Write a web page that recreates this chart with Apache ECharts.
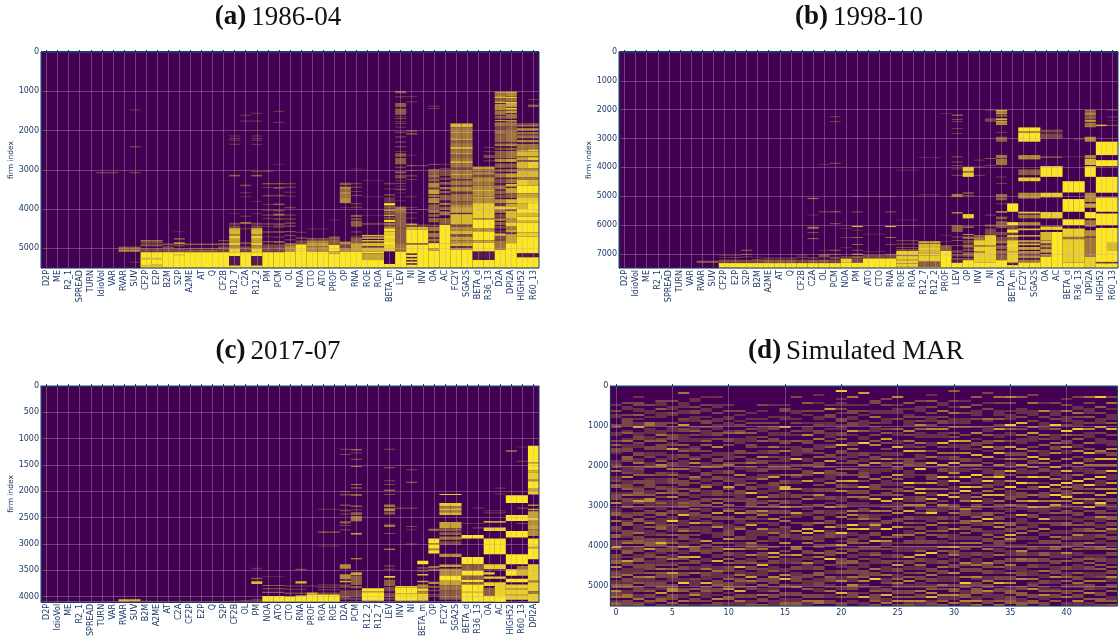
<!DOCTYPE html>
<html><head><meta charset="utf-8">
<style>html,body{margin:0;padding:0;background:#fff}#c{width:1119px;height:639px}</style>
<script src="https://cdn.jsdelivr.net/npm/echarts@6/dist/echarts.min.js"></script>
</head><body><div id="c"></div>
<script>
const categoriesA = ["D2P","ME","R2_1","SPREAD","TURN","IdioVol","VAR","RVAR","SUV","CF2P","E2P","B2M","S2P","A2ME","AT","Q","CF2B","R12_7","C2A","R12_2","PM","PCM","OL","NOA","CTO","ATO","PROF","OP","RNA","ROE","ROA","BETA_m","LEV","NI","INV","OA","AC","FC2Y","SGA2S","BETA_d","R36_13","D2A","DPI2A","HIGH52","R60_13"];
const categoriesB = ["D2P","IdioVol","ME","R2_1","SPREAD","TURN","VAR","RVAR","SUV","CF2P","E2P","S2P","B2M","A2ME","AT","Q","CF2B","C2A","OL","PCM","NOA","PM","ATO","CTO","RNA","ROE","ROA","R12_7","R12_2","PROF","LEV","OP","INV","NI","D2A","BETA_m","FC2Y","SGA2S","OA","AC","BETA_d","R36_13","DPI2A","HIGH52","R60_13"];
const categoriesC = ["D2P","IdioVol","ME","R2_1","SPREAD","TURN","VAR","RVAR","SUV","B2M","A2ME","AT","C2A","CF2P","E2P","Q","S2P","CF2B","OL","PM","NOA","ATO","CTO","RNA","PROF","ROA","ROE","D2A","PCM","R12_2","R12_7","LEV","INV","NI","BETA_m","OP","FC2Y","SGA2S","BETA_d","R36_13","OA","AC","HIGH52","R60_13","DPI2A"];

// each list: column name, then repeated start firm, end firm, share of missing (tenths); later bands overwrite earlier ones
const bandsA = [
["IdioVol",3060,3090,3],["VAR",3060,3090,3],
["RVAR",4960,5030,4,5030,5090,6],
["SUV",1460,1490,2,2400,2430,3,3060,3090,3,4960,5030,4,5030,5090,6,5340,5370,2],
["CF2P",4790,4830,5,4840,4880,3,4900,4950,4,5000,5090,3,5100,5500,10,5240,5290,8,5420,5470,8],
["E2P",4790,4830,5,4840,4880,3,4900,4950,4,5000,5090,3,5100,5500,10,5240,5290,8,5400,5470,8],
["B2M",4880,4920,4,4950,5000,3,5000,5100,3,5100,5500,10],
["S2P",4570,4590,2,4740,4780,4,4850,4890,7,4900,4950,3,5000,5100,3,5100,5500,10,5160,5180,7],
["A2ME",4880,4920,4,4990,5030,3,5040,5090,4,5100,5500,10],
["AT",4880,4920,4,4990,5030,3,5040,5090,4,5100,5500,10],
["Q",4880,4920,4,4990,5030,3,5040,5090,4,5100,5500,10],
["CF2B",4790,4820,3,4870,4920,4,4950,5090,3,5100,5500,10],
["R12_7",2130,2150,3,2190,2210,3,2235,2255,3,2340,2360,3,3130,3170,4,4100,4120,2,4350,4400,3,4420,4480,3,4490,4530,9,4530,4640,8,4640,4680,6,4680,4760,9,4760,4850,7,4850,4920,9,4920,5000,6,5000,5100,9,5100,5200,10,5200,5440,1,5440,5500,10],
["C2A",1600,1620,3,1750,1770,3,3380,3420,3,3570,3600,2,3680,3700,2,4170,4200,2,4330,4380,5,4480,4520,2,4840,4900,3,4950,5090,3,5100,5500,10],
["R12_2",1550,1570,3,1750,1770,3,2130,2150,3,2190,2210,3,2235,2255,3,2340,2360,3,3040,3060,3,3130,3170,4,3800,3820,2,4100,4120,2,4350,4400,3,4420,4480,3,4490,4530,9,4530,4640,8,4640,4680,6,4680,4760,9,4760,4850,7,4850,4920,9,4920,5000,6,5000,5100,9,5100,5200,10,5200,5440,1,5440,5500,10],
["PM",3030,3050,3,3340,3370,4,3440,3460,3,3640,3680,3,3870,3890,3,4020,4040,3,4140,4170,3,4230,4250,3,4360,4400,3,4440,4460,3,4570,4600,4,4700,4720,3,4820,4850,4,4900,5090,3,5100,5500,10],
["PCM",1500,1520,3,1780,1800,3,2850,2870,2,3340,3370,4,3440,3480,4,3640,3680,3,3860,3900,4,4020,4060,3,4120,4170,5,4240,4270,4,4360,4420,3,4440,4470,4,4570,4600,5,4700,4730,3,4820,4860,5,4900,5090,3,5100,5500,10],
["OL",3340,3370,3,3430,3460,3,3560,3580,3,3660,3690,2,3950,3980,3,4140,4170,3,4240,4270,3,4340,4380,3,4420,4450,4,4560,4590,4,4660,4690,3,4770,4800,3,4870,4930,5,4930,5085,6,5085,5500,10],
["NOA",4580,4610,2,4720,4760,3,4800,4900,3,4900,5500,10,5050,5080,9],
["CTO",4500,4520,2,4740,4780,4,4800,4850,6,4850,4950,7,4950,5085,6,5085,5500,10],
["ATO",4500,4520,2,4740,4780,4,4800,4850,6,4850,4950,7,4950,5085,6,5085,5500,10],
["PROF",4270,4290,2,4700,4780,4,4780,4900,4,4910,5085,10,5085,5140,8,5140,5500,10],
["OP",3330,3390,4,3430,3500,6,3500,3560,5,3560,3620,6,3620,3700,5,3700,3850,6,3950,3970,2,4830,4910,6,4910,5000,3,5000,5085,6,5085,5500,10],
["RNA",2970,2990,2,3340,3370,3,3430,3460,3,3540,3560,3,3640,3670,3,3850,3880,3,3940,3970,3,4150,4200,4,4230,4280,3,4300,4450,4,4570,4600,3,4680,4700,3,4720,4870,4,4870,5085,7,5085,5500,10],
["ROE",3260,3280,2,3680,3700,2,4150,4170,2,4360,4400,3,4660,4700,8,4720,4760,8,4790,4830,8,4860,4950,8,4980,5085,8,5085,5130,10,5130,5300,7,5300,5500,10],
["ROA",3260,3280,2,3680,3700,2,4150,4170,2,4360,4400,3,4660,4700,8,4720,4760,8,4790,4830,8,4860,4950,8,4980,5085,8,5085,5130,10,5130,5300,7,5300,5500,10],
["BETA_m",3340,3370,3,3480,3500,3,3620,3660,3,3700,3840,2,3850,3910,10,3930,3990,4,4010,4050,7,4060,4120,4,4140,4180,7,4200,4270,3,4280,4330,10,4350,4420,5,4440,4480,6,4490,4570,10,4570,5085,9,4700,4730,10,4850,4900,10,5085,5400,0,5400,5500,10],
["LEV",990,1050,4,1120,1160,2,1300,1400,4,1440,1600,4,1640,1660,3,1680,1710,3,1760,1790,2,1810,1830,3,1900,1930,2,2030,2060,3,2150,2180,3,2280,2310,3,2400,2430,3,2520,2550,2,2580,2670,4,2700,2860,4,2920,2960,3,3040,3090,4,3130,3220,3,3260,3290,2,3330,3360,3,3400,3430,2,3480,3520,3,3580,3600,2,3680,3700,2,3780,3800,2,3940,4100,5,4100,4500,4,4500,4870,4,4870,5085,5,5085,5500,10],
["NI",1130,1150,3,1260,1280,3,1990,2030,3,2060,2110,3,2620,2640,2,2880,2910,4,3010,3030,3,3140,3170,3,3240,3260,3,3680,3700,3,3950,3970,3,4080,4110,3,4220,4240,3,4370,4420,7,4450,4530,8,4530,4870,10,4870,4910,5,4910,5500,10,5130,5170,1,5220,5260,1,5300,5340,1,5380,5420,1],
["INV",2880,2910,3,4000,4020,2,4400,4420,6,4450,4530,8,4530,4870,10,4870,4910,5,4910,5500,10],
["OA",1370,1390,3,1430,1450,3,2850,2880,3,2980,3130,4,3130,3200,5,3220,3300,4,3330,3440,6,3440,3480,4,3500,3620,7,3640,3700,5,3720,3850,6,3880,4000,4,4020,4100,5,4130,4200,4,4230,4340,4,4400,4430,4,4450,4830,5,4830,4870,2,4870,5000,10,5000,5060,7,5060,5500,10,4560,4610,1,4720,4760,1],
["AC",2850,2870,3,2960,3000,3,3020,3160,3,3200,3260,3,3310,3380,4,3440,3500,5,3540,3600,4,3640,3780,4,3840,3900,5,3940,4020,4,4060,4160,5,4230,4380,4,4400,4870,10,4870,5500,10],
["FC2Y",1820,1920,8,1920,2040,5,2040,2060,9,2060,2200,5,2200,2240,8,2240,2320,4,2320,2420,5,2420,2480,8,2480,2580,5,2580,2610,9,2610,2700,4,2700,2780,5,2780,2830,8,2830,2950,5,2950,3000,3,3000,3100,5,3100,3130,9,3130,3240,5,3240,3270,2,3270,3400,5,3400,3440,3,3440,3560,6,3560,3620,2,3620,3800,5,3800,3880,4,3880,3950,6,3950,4100,7,4100,4130,1,4130,4400,8,4400,4450,3,4450,4550,6,4550,4650,8,4650,4700,3,4700,4800,7,4800,4870,6,4870,4950,8,4950,5000,2,5000,5040,7,5040,5500,10],
["SGA2S",1820,1920,8,1920,2040,5,2040,2060,9,2060,2200,5,2200,2240,8,2240,2320,4,2320,2420,5,2420,2480,8,2480,2580,5,2580,2610,9,2610,2700,4,2700,2780,5,2780,2830,8,2830,2950,5,2950,3000,3,3000,3100,5,3100,3130,9,3130,3240,5,3240,3270,2,3270,3400,5,3400,3440,3,3440,3560,6,3560,3620,2,3620,3800,5,3800,3880,4,3880,3950,6,3950,4100,7,4100,4130,1,4130,4400,8,4400,4450,3,4450,4550,6,4550,4650,8,4650,4700,3,4700,4800,7,4800,4870,6,4870,4950,8,4950,5000,2,5000,5040,7,5040,5500,10],
["BETA_d",2920,3000,7,3000,3060,4,3060,3130,6,3130,3190,3,3190,3330,6,3330,3400,5,3400,3500,6,3500,3560,8,3560,3680,6,3680,3720,7,3720,3850,6,3850,4240,9,4240,4270,7,4270,4500,10,4500,4570,6,4570,4800,10,4800,4860,7,4860,5085,10,5085,5300,1,5300,5500,10],
["R36_13",2420,2440,3,2530,2550,3,2620,2700,3,2750,2790,2,2920,3000,7,3000,3060,4,3060,3130,6,3130,3190,3,3190,3330,6,3330,3400,5,3400,3500,6,3500,3560,8,3560,3680,6,3680,3720,7,3720,3850,6,3850,4240,9,4240,4270,7,4270,4500,10,4500,4570,6,4570,4800,10,4800,4860,7,4860,5085,10,5085,5300,1,5300,5500,10],
["D2A",1010,1060,7,1060,1130,5,1130,1180,8,1180,1260,4,1260,1300,8,1320,1440,6,1440,1470,9,1490,1600,5,1620,1700,4,1730,1760,7,1790,1900,5,1900,2000,3,2000,2100,5,2100,2300,4,2330,2400,5,2440,2500,3,2520,2700,4,2720,2800,6,2840,2950,4,2980,3060,3,3090,3200,5,3230,3340,3,3340,3400,1,3400,3500,5,3530,3620,4,3640,3720,3,3750,3850,6,3850,3930,2,3930,4000,9,4000,4100,5,4130,4220,3,4240,4300,6,4330,4410,4,4430,4500,3,4540,4600,2,4620,4700,7,4720,4780,4,4800,5040,5,4640,4660,8,5040,5500,10],
["DPI2A",1010,1060,8,1060,1130,6,1140,1180,9,1180,1260,5,1270,1320,9,1320,1400,7,1420,1470,9,1490,1560,7,1580,1700,5,1740,1770,9,1790,1900,5,1900,2000,4,2000,2300,5,2330,2400,6,2440,2500,4,2520,2700,5,2720,2800,7,2840,2950,4,2980,3060,4,3090,3200,7,3230,3340,5,3360,3430,8,3460,3600,7,3600,3720,4,3750,3850,8,3860,3930,7,3930,4000,9,4000,4050,3,4050,4250,8,4250,4340,6,4340,4450,9,4450,4520,5,4520,4600,7,4600,4640,2,4640,4870,7,4870,5500,10],
["HIGH52",1820,1850,5,1860,1900,5,1940,2000,6,2040,2100,5,2120,2200,5,2240,2300,6,2340,2470,5,2480,2530,7,2530,2650,8,2650,2680,4,2680,2760,7,2760,2800,4,2800,2960,8,2960,3020,6,3020,3200,8,3200,3260,5,3260,3400,9,3400,3600,10,3600,3700,7,3700,3850,9,3850,4000,8,4000,4100,10,4100,4200,8,4200,4280,10,4280,4350,8,4350,4600,10,4600,4700,9,4700,5130,10,5130,5230,1,5230,5500,10],
["R60_13",1200,1220,3,1340,1400,4,1820,1850,6,1860,1900,5,1940,2000,6,2040,2100,5,2120,2200,5,2240,2300,6,2340,2420,5,2420,2470,5,2480,2530,9,2530,2650,8,2650,2680,4,2680,2760,9,2760,2800,4,2800,2960,9,2960,3020,6,3020,3200,8,3200,3260,5,3260,3400,8,3400,3600,10,3600,3700,7,3700,3850,9,3850,4000,10,4000,4100,10,4100,4200,8,4200,4280,10,4280,4350,8,4350,4600,10,4600,4700,9,4700,5130,10,5130,5230,1,5230,5500,10]
];

const bandsB = [
["RVAR",7240,7310,4],["SUV",7240,7310,4],
["CF2P",7040,7070,2,7110,7140,2,7200,7310,3,7320,7490,10,7460,7490,8],
["E2P",7040,7070,2,7110,7140,3,7200,7310,3,7320,7490,10,7460,7490,8],
["S2P",6860,6890,5,7000,7040,3,7090,7120,3,7210,7310,3,7320,7490,10],
["B2M",7100,7130,2,7180,7310,3,7320,7490,10],
["A2ME",7130,7170,3,7200,7310,4,7320,7490,10],
["AT",7130,7170,3,7200,7310,4,7320,7490,10],
["Q",7130,7170,3,7200,7310,4,7320,7490,10],
["CF2B",7020,7060,2,7100,7140,3,7200,7310,3,7320,7490,10],
["C2A",5060,5100,5,5640,5670,2,6060,6130,5,6240,6280,3,6450,6490,4,7120,7170,3,7210,7310,4,7320,7490,10],
["OL",3880,3910,2,5520,5560,3,6860,6890,2,7000,7130,3,7200,7310,4,7320,7490,10],
["PCM",2230,2260,3,2400,2430,3,3840,3880,3,5520,5560,4,5930,5970,3,6860,6890,5,7000,7040,3,7100,7180,3,7200,7310,3,7320,7490,10],
["NOA",6100,6130,2,6420,6450,3,6770,6800,2,7080,7130,3,7160,7310,9,7310,7490,10],
["PM",5000,5020,3,5530,5560,4,6030,6070,8,6180,6200,2,6420,6450,5,6660,6690,5,6860,6890,4,6990,7040,5,7080,7160,4,7160,7310,3,7310,7490,10],
["ATO",5000,5020,2,6300,6320,2,6900,6930,2,7040,7160,3,7160,7490,10],
["CTO",5000,5020,2,6300,6320,2,6900,6930,2,7040,7160,3,7160,7490,10],
["RNA",5000,5020,3,5530,5560,4,6030,6070,8,6420,6450,5,6660,6680,3,7000,7160,3,7160,7490,10],
["ROE",4080,4110,2,5810,5840,2,6000,6020,2,6530,6560,4,6640,6680,3,6760,6800,3,6840,6890,4,6900,7450,9,7040,7080,5,7190,7230,6,7320,7350,6,7450,7490,10],
["ROA",4080,4110,2,5810,5840,2,6000,6020,2,6530,6560,4,6640,6680,3,6760,6800,3,6840,6890,4,6900,7450,9,7040,7080,5,7190,7230,6,7320,7350,6,7450,7490,10],
["R12_7",3640,3670,2,4940,4970,2,6560,6620,8,6640,6800,8,6800,6860,10,6860,7000,8,7000,7050,10,7050,7270,9,7270,7450,4,7450,7490,10],
["R12_2",3640,3670,2,4940,4970,2,6560,6620,8,6640,6800,8,6800,6860,10,6860,7000,8,7000,7050,10,7050,7270,9,7270,7450,4,7450,7490,10],
["PROF",2120,2150,2,6340,6370,2,6550,6580,2,6700,6900,4,6900,7490,10],
["LEV",2170,2210,5,2320,2350,4,2400,2430,3,2640,2660,3,2810,2840,3,3620,3650,4,3800,3830,4,3920,3950,3,4040,4070,3,4260,4290,4,4920,5030,5,5550,5600,6,6000,6240,4,6400,6430,4,6520,6550,4,6700,6730,4,6880,6960,3,7020,7090,3,7140,7220,3,7220,7310,1,7310,7490,10],
["OP",3980,4130,9,4130,4180,5,4180,4330,9,4870,4910,5,4960,5000,3,5620,5770,9,6050,6090,6,6310,6350,6,6400,6480,5,6520,6640,3,6680,6780,5,6820,6900,3,6940,7100,4,7140,7220,3,7220,7490,10],
["INV",3730,3770,2,3970,4000,3,4270,4300,3,6350,6400,5,6400,6520,5,6525,6700,9,6700,6760,6,6760,6900,9,6900,6960,6,6960,7310,9,7310,7490,10],
["NI",2000,2030,3,2300,2420,3,3680,3710,4,3920,3950,3,5640,5670,3,5980,6060,3,6120,6340,3,6350,6700,9,6700,6760,7,6760,7310,9,7310,7490,10],
["D2A",2010,2070,8,2090,2160,7,2190,2240,5,2300,2370,8,2400,2450,9,2470,2530,7,2770,2800,3,2940,3110,4,3570,3680,5,3700,3920,5,4320,4340,3,4540,4570,3,4930,5020,5,5040,5140,4,5250,5280,3,5520,5570,7,5710,5800,4,5860,6100,4,6240,6350,3,6400,6520,3,6530,6640,5,6700,6840,4,6880,7000,5,7040,7220,4,7220,7490,10],
["BETA_m",5250,5540,10,5900,6000,10,6000,6150,3,6155,6270,10,6270,6350,2,6350,6430,9,6430,6520,4,6525,7310,9,6700,6730,10,6900,6950,7,7310,7390,1,7390,7490,10],
["FC2Y",2615,2760,10,2760,2810,6,2810,3110,10,3575,3725,6,4070,4270,4,4350,4480,9,4880,5080,6,5540,5600,9,5640,5770,5,5900,6000,6,6120,6180,8,6350,6400,8,6525,6600,7,6640,6700,8,6760,6860,7,6900,7000,6,7050,7150,6,7200,7300,5,7300,7490,10],
["SGA2S",2615,2760,10,2760,2810,6,2810,3110,10,3575,3725,6,4070,4270,4,4350,4480,9,4880,5080,6,5540,5600,9,5640,5770,5,5900,6000,6,6120,6180,8,6350,6400,8,6525,6600,7,6640,6700,8,6760,6860,7,6900,7000,6,7050,7150,6,7200,7300,5,7300,7490,10],
["OA",2690,2790,3,2830,3000,3,3620,3670,4,3960,4330,10,4880,5040,9,5550,5770,9,6050,6170,9,6240,6520,8,6530,6640,8,6680,6780,6,6820,6960,7,7000,7100,5,7100,7490,10],
["AC",2690,2790,3,2830,3000,3,3620,3670,4,3960,4330,10,4880,5040,9,5550,5770,9,6050,6170,9,6240,7490,10],
["BETA_d",3620,3650,2,4480,4870,10,5100,5540,10,5800,6000,10,6120,6410,9,6430,7300,9,6460,6490,2,7300,7490,10],
["R36_13",3000,3040,2,3620,3650,2,4480,4870,10,5100,5540,10,5800,6000,10,6120,6410,9,6430,7300,9,6460,6490,2,7300,7490,10],
["DPI2A",2010,2070,5,2090,2180,6,2190,2330,4,2350,2420,7,2450,2610,5,2940,3110,6,3575,3680,6,3700,3920,8,3960,4330,10,4880,5200,6,5250,5400,7,5550,5770,10,5830,6060,5,6180,6400,6,6430,7100,5,7100,7490,9],
["HIGH52",2520,2570,8,3110,3575,10,3750,3960,10,4330,4880,10,5040,5540,10,5600,6000,10,6100,7280,10,7280,7330,2,7330,7490,10],
["R60_13",2000,2030,3,2240,2270,3,2370,2400,2,2520,2570,3,3110,3575,10,3750,3960,10,4330,4880,10,5040,5540,10,5600,6000,10,6100,7280,10,6600,6900,8,7280,7330,2,7330,7490,10]
];

const bandsC = [
["RVAR",4050,4100,8],["SUV",4050,4090,8],
["B2M",4080,4100,4],["A2ME",4085,4100,3],["AT",4085,4100,3],["C2A",4085,4100,3],["CF2P",4085,4100,3],["E2P",4085,4100,3],["Q",4085,4100,3],["S2P",4085,4100,3],["CF2B",4080,4100,3],["OL",4070,4100,3],
["PM",3450,3480,2,3640,3670,4,3710,3760,8,4040,4070,2,4070,4100,3],
["NOA",3610,3625,2,3780,3800,4,3840,3860,4,3910,3930,4,3990,4100,10],
["ATO",3610,3625,2,3780,3800,4,3840,3860,4,3910,3930,4,3990,4100,10],
["CTO",3790,3810,3,3850,3870,3,3920,3950,3,4000,4100,10],
["RNA",3470,3500,3,3710,3750,8,3790,3810,3,3850,3870,3,3920,3950,3,3980,4100,10],
["PROF",3790,3810,3,3920,3960,8,3960,4100,10],
["ROA",2330,2350,2,2760,2790,3,3030,3050,2,3770,3790,3,3810,3830,3,3860,3880,3,3920,3960,3,3960,4100,10],
["ROE",2330,2350,2,2760,2790,3,3030,3050,2,3770,3790,3,3810,3830,3,3860,3880,3,3920,3960,3,3960,4100,10],
["D2A",1190,1210,3,1290,1310,3,2000,2020,3,2050,2080,3,2250,2280,3,2350,2380,3,2420,2440,3,2570,2610,4,2640,2660,3,2720,2740,3,3385,3470,6,3575,3670,6,3700,3730,8,3770,3830,3,3880,4060,3],
["PCM",1200,1220,6,1260,1280,2,1380,1400,4,1520,1540,5,1860,1880,5,1925,1945,4,2060,2080,8,2270,2300,4,2340,2360,3,2400,2450,4,2470,2570,5,2790,2820,7,3270,3290,7,3540,3590,7,3600,3780,4,3800,3840,4,3880,4000,3,4020,4060,3],
["R12_2",3840,3900,10,3900,3930,8,3930,4080,10],
["R12_7",3840,3900,10,3900,3930,8,3930,4080,10],
["LEV",1190,1210,3,1540,1560,3,1790,1810,3,1860,1880,3,1970,1990,6,2050,2070,3,2250,2300,5,2320,2380,6,2400,2440,4,2630,2680,5,2790,2810,3,3090,3110,7,3410,3430,4,3470,3490,3,3610,3640,9,3680,3800,4,3820,3900,3,3930,4000,3,4020,4060,3],
["INV",2310,2330,3,3800,3830,9,3830,4080,10,3930,3960,8],
["NI",1580,1600,3,1820,1840,5,2310,2330,3,2660,2680,3,2720,2740,2,2990,3010,3,3800,3830,9,3830,4080,10,3930,3960,8],
["BETA_m",3320,3385,10,3440,3470,3,3490,3530,3,3570,3600,8,3700,3730,7,3770,3830,6,3840,3900,9,3900,3940,6,3940,4080,9],
["OP",2710,2750,5,2895,2990,10,2990,3020,6,3020,3090,10,3090,3120,6,3120,3180,10,3420,3460,5,3480,3510,5,3720,3760,6,3800,3830,4,3870,3900,3,3950,3980,3],
["FC2Y",2050,2070,9,2220,2290,9,2290,2320,5,2320,2370,8,2370,2400,5,2400,2450,8,2585,2700,7,2700,2760,4,2780,2830,4,2860,2920,5,2950,3020,3,3185,3250,6,3390,3440,7,3470,3490,8,3490,3600,6,3600,3700,10,3700,3790,7,3790,3880,5,3880,4060,4],
["SGA2S",2050,2070,9,2220,2290,9,2290,2320,5,2320,2370,8,2370,2400,5,2400,2450,8,2585,2700,7,2700,2760,4,2780,2830,4,2860,2920,5,2950,3020,3,3185,3250,6,3390,3440,7,3470,3490,8,3490,3600,6,3600,3700,10,3700,3790,7,3790,3880,5,3880,4060,4],
["BETA_d",2600,2620,2,2830,2895,10,3250,3385,10,3385,3510,4,3510,3605,10,3605,3680,4,3680,3730,10,3730,3770,4,3770,4100,10,3900,3930,8],
["R36_13",2310,2330,2,2600,2620,2,2680,2710,2,2830,2895,10,3250,3385,10,3385,3510,4,3510,3605,10,3605,3680,4,3680,3730,10,3730,3770,4,3770,4100,10,3900,3930,8],
["OA",2360,2380,2,2400,2420,2,2570,2595,10,2690,2755,9,2895,3195,10,3385,3480,9,3540,3580,9,3620,3660,9,3730,3800,9,3830,3985,4,3985,4100,10],
["AC",1930,1950,2,2040,2060,2,2360,2380,2,2400,2420,2,2570,2595,10,2690,2755,9,2895,3195,10,3385,3480,9,3620,3660,9,3730,3800,9,3800,4100,9,3985,4100,10],
["HIGH52",1220,1250,5,2075,2220,10,2450,2565,10,2755,2880,10,3195,3385,10,3480,3605,10,3660,3730,10,3770,4060,9,3840,3870,6,3950,3980,7],
["R60_13",1150,1170,2,1420,1440,3,2075,2220,10,2310,2330,3,2450,2565,10,2600,2620,3,2755,2880,10,3195,3385,10,3420,3480,5,3480,3605,8,3660,3730,10,3770,4060,9,3840,3870,6,3950,3980,7],
["DPI2A",1135,1450,10,1450,1480,8,1480,1600,10,1600,1640,8,1640,1780,9,1780,1810,6,1810,1950,10,1950,2000,7,2000,2060,9,2250,2280,6,2330,2360,7,2380,2500,7,2500,2560,9,2560,2640,6,2640,2720,7,2720,2850,6,2895,3290,10,3050,3090,7,3385,3700,9,3700,3730,5,3730,3900,9,3900,3950,5,3950,4100,9]
];

// panel (d): one string per simulated characteristic, each digit is the share of missing in a 50-firm row
const simRows = [
"00000000020030220003300220030403320002233050022304400233306002244005003320440222730033244060233502244063350244053",
"00000000302200303333002400250223300443002223060223340250332240023302440033320350224402073302225033244022550333062",
"00000200330220402022700223303220033022503322400330233440273022033044022225033440333022440332230522403330225034407",
"00000000030022020055022202240033022300224000402333302240662220330302504022203344070233022333040622330240330420533",
"00000003220402220033002250340333022024064003302220330503024222044022234402303384033204222305043302333207024403322",
"00000003002203200030222033302307002220330502403330233406022220330229032220402240333022502304073322033660333042250",
"00050000222022003207033022220402403302220500220333040330224330228002220350333022602207303033033022900340220503330",
"00000022003033022200224030220023300240602220053030034022033304033220702230302220444008033022050032220403603302240",
"00000200030220020330302220240400302200225003302203602220330402203302402222000703023300220225033220803342220303250",
"00000200022003002202220330300060022033034022033022003330405020070330226002220040233022080022522203340330206033304",
"00000000020030022022002400330300022220350033022300730220330403500330022233306030070330404033302240333602044022305",
"00000000000030200203003500222000330300302200602224003322230002070032203500033022060222033080225034223080330522040",
"00000000000002002030030402220330030022503220022030330800333320440330270022222053330060224033022705203300330224033",
"00000000030020002030222003040020220603300330225002202207023030625020300622200302250332202803222033040220503304403",
"00000000020000020030330220330050330302023300270033222033040330330060220225022200300806033022400633302240330222405",
"00000000020330022000700220033020500222023300400330880222033060330305003222330060003050222002206080033003302244033",
"00000300000022002030003020040022222080030300520220060033022040072200300060222000550070223033022333025003302244033",
"00000000400030200020222060033003320022040033300700022030500222022000330808033050003302206222003302220400330522040",
"00002000200030022023003300500222030400333007002203033062200400330330500080222303300505022033044022330220330550224",
"00000000020700330022020222030240003307002033222050033003302060222003307023330004003330900300220433022050220330440",
"00900020220302003302220330400800330220300403300703306002220330230500033009220207030500334220330226002208030033022",
"00000500020033022033007020003305022203300400300802303305002200606030090802203340033022044022330522063303330220400",
"00070000020030200222004002209000033022060223340300803305202203303350220900222040330220302220333406022002080022440",
"00000003300022050030222030040600020330700222005003330030800200602230372203300800330340222005033090002240333404022",
"00000030030022002220030400703003022060330220050222030330080220502003300900040622030022033022205022300330802250440",
"00000600020222003000040220022080022030503300704022033040902223060033007000530020222033030703302240522033040603330",
"00000000400200230222006030050220800033340022220090305002220600800330403022500330222007033022030406022033040624440",
"00000003002220030306040222005030702220330900200050080803330622040220303305022330224080330522040330222050330622440",
"00002004003003022203060022002200300500802000333070050220803003390222050030400330220900222003305033022406080233033",
"00000000220050030330060222008030050220070330090222050090030622200330502240330220604022033050330222050300622404033",
"00400003002005002220400303080220050330802226030900220508000333050220300600222030703350220330060222030440622050333",
"00000002005003002220400030070222060033050220090030909022250006333004403304022050330222006303300500933022440622033",
"00000400030022203000300600203302008022050300902220700305090333022406220330022050300330222503300620330444022605023",
"00030000200300005200222040033080200700300222060903305080222030044090330022403302050222006330330225033062220330440",
"00000500300022204003070022050033080020060033390222040080050322030330606022040333022050033040220330800330222405033",
"00000600300020222009040220030070033050222080300600902223300502202200440330806302202220330522040330602244033440250",
"00000400000222030080030050222006033040070222050090030333060322008022203305022002206330540022233060003304402244033",
"00003000500022200300500702220030400803305022090060330050080072203300222040022020330220440330222050230600330440220",
"00000000200060030022220050300400222080500330070020900333050062220080300602200330220440330220502203302240622033022",
"00000000300022203009040022205033060003007022205008033090060722040220330022050330440222033022330602200240330400220",
"00000020030050022203009040033070220050030080222090603339050220330220440022033022300622040033022404022033050022044",
"00000300002205030222090030400220600300702220500903330600508022033022040330622033040220330222040330522040330622033",
"00000500300222040030060222005003080033050222007009030400622080300220330440222050330022404033022205033306004022033",
"00000900004003002220700300222000530080050033090222060070309500330622022050330220440022330404022305002203304403302",
"00000300500200222040080030022206033080050090222070060800330222030440330622033022050330222040330622033040022404033"
];

const VIR0=[68,1,84], VIR1=[253,231,37];
function shade(l){const t=l/10;return 'rgb('+VIR0.map((c,i)=>Math.round(c+(VIR1[i]-c)*t)).join(',')+')';}
function toTriples(categories,bands){
  const out=[];
  bands.forEach(r=>{const col=categories.indexOf(r[0]);
    for(let i=1;i<r.length;i+=3) out.push([col,r[i],r[i+1],r[i+2]]);});
  return out;
}
function simTriples(){
  const out=[];
  simRows.forEach((s,c)=>{for(let i=0;i<s.length;i++){const l=+s[i];if(l>0) out.push([c,i*50,(i+1)*50,l]);}});
  return out;
}
const NAVY='#1c3a68', GRID='rgba(176,176,176,0.38)';
const panels=[
 {box:[41,52,498,216],cats:categoriesA,data:toTriples(categoriesA,bandsA),max:5503,step:1000,title:'{b|(a)} {n|1986-04}',tx:273,ty:-1,thick:true},
 {box:[619,52,499,216],cats:categoriesB,data:toTriples(categoriesB,bandsB),max:7490,step:1000,title:'{b|(b)} {n|1998-10}',tx:854,ty:-1,thick:true},
 {box:[41,386,498,216.5],cats:categoriesC,data:toTriples(categoriesC,bandsC),max:4100,step:500,title:'{b|(c)} {n|2017-07}',tx:273,ty:333},
 {box:[610.4,386,507,220],cats:simRows.map((_,i)=>String(i)),data:simTriples(),max:5500,step:1000,title:'{b|(d)} {n|Simulated MAR}',tx:851,ty:333,sim:true}
];
const renderItem=(p,api)=>{
  const a=api.coord([api.value(0),api.value(1)]), b=api.coord([api.value(0),api.value(2)]);
  const w=api.size([1,0])[0];
  return {type:'rect',shape:{x:a[0]-w/2,y:a[1],width:w,height:Math.max(b[1]-a[1],0.8)},style:{fill:shade(api.value(3))}};
};
const option={animation:false,backgroundColor:'#fff',
 title:panels.map(p=>({text:p.title,left:p.tx,top:p.ty,textAlign:'center',textStyle:{rich:{
   b:{fontFamily:'Liberation Serif',fontWeight:'bold',fontSize:27,color:'#111'},
   n:{fontFamily:'Liberation Serif',fontWeight:'normal',fontSize:27,color:'#111'}}}})),
 grid:panels.map(p=>({left:p.box[0],top:p.box[1],width:p.box[2],height:p.box[3],show:true,backgroundColor:'#440154',borderWidth:0})),
 xAxis:panels.map((p,i)=>({gridIndex:i,type:'category',data:p.cats,z:5,boundaryGap:true,
   axisLine:{show:true,lineStyle:{color:NAVY,width:1}},
   axisTick:{show:true,inside:true,length:2,alignWithLabel:true,interval:p.sim?4:0,lineStyle:{color:NAVY}},
   axisLabel:{show:true,interval:p.sim?4:0,rotate:p.sim?0:90,margin:p.sim?3:2,color:NAVY,fontFamily:'DejaVu Sans',fontSize:8},
   splitLine:{show:true,interval:p.sim?4:0,alignWithLabel:true,lineStyle:{color:GRID,width:1}}})),
 yAxis:panels.map((p,i)=>({gridIndex:i,type:'value',inverse:true,min:0,max:p.max,interval:p.step,z:5,
   name:p.sim?'':'firm index',nameLocation:'middle',nameGap:23,nameTextStyle:{color:NAVY,fontFamily:'DejaVu Sans',fontSize:7.5},
   axisLine:{show:true,lineStyle:{color:NAVY,width:1}},
   axisTick:{show:true,inside:true,length:2,lineStyle:{color:NAVY}},
   axisLabel:{show:true,margin:2,color:NAVY,fontFamily:'DejaVu Sans',fontSize:8,showMaxLabel:false,formatter:v=>String(v)},
   splitLine:{show:true,lineStyle:{color:GRID,width:1}}})),
 series:panels.map((p,i)=>({type:'custom',xAxisIndex:i,yAxisIndex:i,coordinateSystem:'cartesian2d',
   renderItem,data:p.data,encode:{x:0,y:[1,2]},clip:true,silent:true,progressive:0,z:2})),
 graphic:panels.map(p=>({type:'rect',z:100,silent:true,shape:{x:p.box[0],y:p.box[1],width:p.box[2],height:p.box[3]},
   style:{fill:'none',stroke:NAVY,lineWidth:1}}))
    .concat(panels.filter(p=>p.thick).map(p=>({type:'rect',z:100,silent:true,shape:{x:p.box[0],y:p.box[1]-1,width:p.box[2],height:2},style:{fill:NAVY}})))
};
echarts.init(document.getElementById('c'),null,{renderer:'canvas'}).setOption(option);
</script></body></html>
